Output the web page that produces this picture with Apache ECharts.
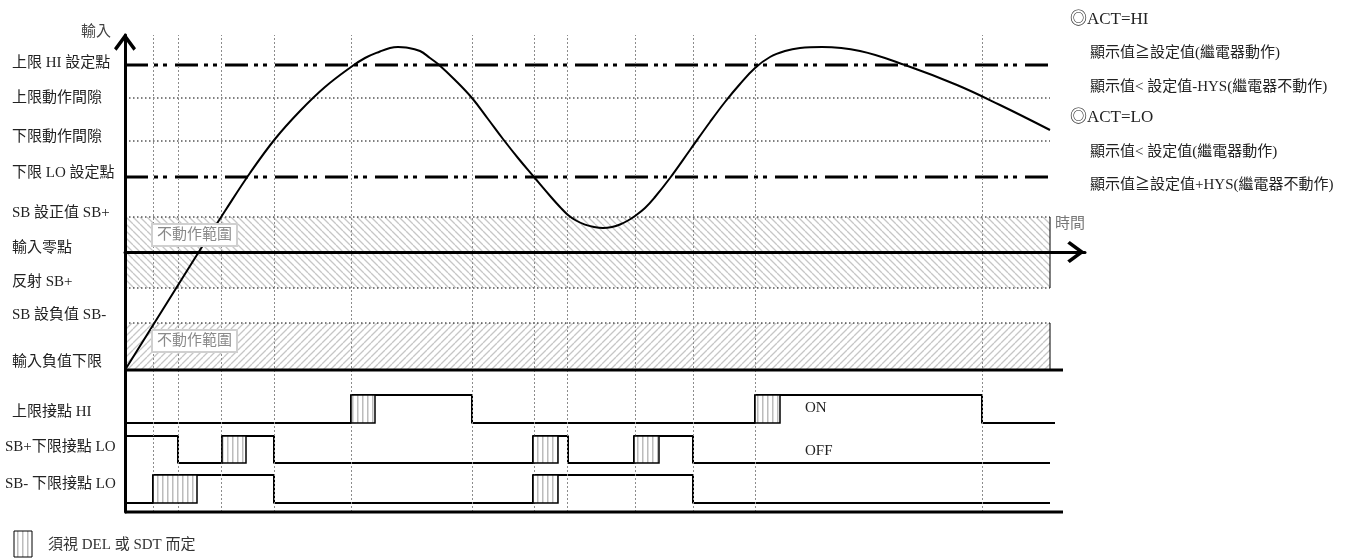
<!DOCTYPE html>
<html><head><meta charset="utf-8">
<script src="https://cdn.jsdelivr.net/npm/echarts@6/dist/echarts.min.js"></script>
<style>html,body{margin:0;padding:0;background:#fff}#c{width:1363px;height:559px}</style>
</head><body><div id="c"></div>
<script>
// ---------------- data ----------------
const levelNames = ['上限 HI 設定點','上限動作間隙','下限動作間隙','下限 LO 設定點','SB 設正值 SB+','輸入零點','反射 SB+','SB 設負值 SB-','輸入負值下限','上限接點 HI','SB+下限接點 LO','SB- 下限接點 LO'];
const levelLabelValues = [189,154,115,79,39,4,-30,-63,-110,-160,-195,-232];

const hiSet = 187, hiGap = 154, loGap = 111, loSet = 75;
const sbPos = 35, sbRefl = -36, sbNeg = -71, negLimit = -118, bottomLine = -260;
const tEnd = 925, tEndThick = 938;

const eventTimes = [28,53,96,149,226,347,409,442,510,568,630,857];

const curveT = [0,25,50,75,100,125,150,175,200,226,240,255,265,273,281,295,305,313,330,347,363,378,393,409,426,435,443,451,460,469,478,487,495,503,510,520,530,545,565,585,600,615,630,645,660,675,697,735,780,832,875,925];
const curveV = [-118,-78,-38,2,41,79,113,141,165,185,194,200.5,204,205,204.5,201,194,188,172,154,133,113,94,75,55,45,37,31.5,27.4,25,24,25,27.5,31.5,36,44,55,74,102,130,150,168,184,195,201,204,205,201,187,167,147,122];

const hiEdges = [0,226,347,630,857,930],            hiStates = [0,1,0,1,0];
const sbPosEdges = [0,53,97,149,408,443,509,568,925], sbPosStates = [1,0,1,0,1,0,1,0];
const sbNegEdges = [0,28,149,408,568,925],           sbNegStates = [0,1,0,1,0];
const hiRow = [-171,-143], sbPosRow = [-211,-184], sbNegRow = [-251,-223];

const delHi = [[226,250],[630,655]];
const delSbPos = [[97,121],[408,433],[509,534]];
const delSbNeg = [[28,72],[408,433]];

const bands = [[sbPos, sbRefl],[sbNeg, negLimit]];
const bandText = '不動作範圍';

const notes = ['◎ACT=HI','顯示值≧設定值(繼電器動作)','顯示值< 設定值-HYS(繼電器不動作)','◎ACT=LO','顯示值< 設定值(繼電器動作)','顯示值≧設定值+HYS(繼電器不動作)'];

// ---------------- helpers ----------------
const FONT = '"Liberation Serif","Noto Sans CJK TC",serif';

function hatch(back){
  const s = 7, c = document.createElement('canvas'); c.width = s; c.height = s;
  const g = c.getContext('2d'); g.strokeStyle = '#c6c6c6'; g.lineWidth = 1.3; g.beginPath();
  for (const k of [-s,0,s]) {
    if (back) { g.moveTo(k,0); g.lineTo(k+s,s); } else { g.moveTo(k,s); g.lineTo(k+s,0); }
  }
  g.stroke(); return c;
}
function stripes(){
  const c = document.createElement('canvas'); c.width = 5; c.height = 4;
  const g = c.getContext('2d'); g.fillStyle = '#fff'; g.fillRect(0,0,5,4);
  g.fillStyle = '#bcbcbc'; g.fillRect(2,0,1.5,4); return c;
}
const hatchBack = hatch(true), hatchFwd = hatch(false), stripeImg = stripes();

function stepData(edges, states, row){
  const d = [];
  for (let i = 0; i < states.length; i++) d.push([edges[i], row[states[i]]]);
  d.push([edges[edges.length-1], row[states[states.length-1]]]);
  return d;
}
function levelLine(v, end, style, z){
  return {type:'line', z: z||4, silent:true, clip:false, symbol:'none', animation:false,
    data:[[0,v],[end,v]], lineStyle: style};
}
const DASHDOT = {color:'#000', width:3, type:[23,6,4,5,4,8]};
const DOTTED = {color:'#000', width:1, type:[1.5,2.5]};
const THICK = {color:'#000', width:3};
const chevron = 'path://M11,0 L22,15 L19.5,17.5 L11,6 L2.5,17.5 L0,15 Z';

const delData = [
  ...delHi.map(d=>[d[0],d[1],hiRow[0],hiRow[1]]),
  ...delSbPos.map(d=>[d[0],d[1],sbPosRow[0],sbPosRow[1]]),
  ...delSbNeg.map(d=>[d[0],d[1],sbNegRow[0],sbNegRow[1]])
];

const series = [
  {type:'line', z:3, silent:true, symbol:'none', data:[[0,0]], lineStyle:{opacity:0},
   markLine:{silent:true, symbol:['none','none'], animation:false, label:{show:false},
     lineStyle:{color:'#8c8c8c', width:1, type:[2,2]}, data: eventTimes.map(t=>({xAxis:t}))}},
  {type:'custom', z:2, silent:true, encode:{x:[0,1], y:[2,3]},
   data: bands.map(b=>[0,tEnd,b[0],b[1]]),
   renderItem:(params, api)=>{
     const a = api.coord([api.value(0), api.value(2)]), b = api.coord([api.value(1), api.value(3)]);
     const img = params.dataIndex === 0 ? hatchBack : hatchFwd;
     return {type:'group', children:[
       {type:'rect', shape:{x:a[0], y:a[1], width:b[0]-a[0], height:b[1]-a[1]}, style:{fill:{image:img, repeat:'repeat'}}},
       {type:'line', shape:{x1:b[0], y1:a[1], x2:b[0], y2:b[1]}, style:{stroke:'#000', lineWidth:1}}
     ]};
   }},
  levelLine(hiSet, tEnd, DASHDOT),
  levelLine(hiGap, tEnd, DOTTED),
  levelLine(loGap, tEnd, DOTTED),
  levelLine(loSet, tEnd, DASHDOT),
  levelLine(sbPos, tEnd, DOTTED),
  levelLine(sbRefl, tEnd, DOTTED),
  levelLine(sbNeg, tEnd, DOTTED),
  levelLine(negLimit, tEndThick, THICK, 5),
  levelLine(bottomLine, tEndThick, THICK, 5),
  {type:'line', z:4, silent:true, clip:false, symbol:'none', step:'end', data: stepData(hiEdges, hiStates, hiRow), lineStyle:{color:'#000', width:2}},
  {type:'line', z:4, silent:true, clip:false, symbol:'none', step:'end', data: stepData(sbPosEdges, sbPosStates, sbPosRow), lineStyle:{color:'#000', width:2}},
  {type:'line', z:4, silent:true, clip:false, symbol:'none', step:'end', data: stepData(sbNegEdges, sbNegStates, sbNegRow), lineStyle:{color:'#000', width:2}},
  {type:'custom', z:5, silent:true, encode:{x:[0,1], y:[2,3]}, data: delData,
   renderItem:(params, api)=>{
     const a = api.coord([api.value(0), api.value(3)]), b = api.coord([api.value(1), api.value(2)]);
     return {type:'rect', shape:{x:a[0], y:a[1], width:b[0]-a[0], height:b[1]-a[1]},
       style:{fill:{image:stripeImg, repeat:'repeat'}, stroke:'#000', lineWidth:1.5}};
   }},
  {type:'line', z:6, silent:true, symbol:'none', smooth:0.4, clip:false,
   data: curveT.map((t,i)=>[t, curveV[i]]), lineStyle:{color:'#000', width:2}},
  {type:'custom', z:7, silent:true, encode:{x:0, y:1}, data: bands.map(b=>[0,b[0]]),
   renderItem:(params, api)=>{
     const p = api.coord([api.value(0), api.value(1)]);
     return {type:'text', x:p[0]+28, y:p[1]+18, style:{text:bandText, font:'15px '+FONT, fill:'#8a8a8a',
       align:'left', verticalAlign:'middle', backgroundColor:'#fff', borderColor:'#d0d0d0', borderWidth:2, padding:[3,4,2,4]}};
   }}
];

const graphic = [];
const noteY = [20,53,87,118,152,185];
notes.forEach((t,i)=>{
  const head = t.charAt(0) === '◎';
  graphic.push({type:'text', x: head ? 1070 : 1090, y: noteY[i], silent:true,
    style:{text:t, font:(head?'17px ':'15px ')+FONT, fill:'#222', verticalAlign:'middle'}});
});
graphic.push({type:'text', x:1055, y:224, silent:true, style:{text:'時間', font:'15px '+FONT, fill:'#777', verticalAlign:'middle'}});
graphic.push({type:'text', x:805, y:408, silent:true, style:{text:'ON', font:'15px '+FONT, fill:'#222', verticalAlign:'middle'}});
graphic.push({type:'text', x:805, y:451, silent:true, style:{text:'OFF', font:'15px '+FONT, fill:'#222', verticalAlign:'middle'}});
graphic.push({type:'rect', silent:true, shape:{x:14, y:531, width:18, height:26}, style:{fill:{image:stripeImg, repeat:'repeat'}, stroke:'#000', lineWidth:1}});
graphic.push({type:'text', x:48, y:545, silent:true, style:{text:'須視 DEL 或 SDT 而定', font:'15px '+FONT, fill:'#333', verticalAlign:'middle'}});

const chart = echarts.init(document.getElementById('c'), null, {renderer:'canvas'});
chart.setOption({
  animation:false,
  backgroundColor:'#fff',
  grid:{left:125, right:278, top:35, bottom:47, containLabel:false},
  xAxis:{type:'value', min:0, max:960, z:10,
    axisLine:{show:true, onZero:true, lineStyle:{color:'#000', width:3}, symbol:['none', chevron], symbolSize:[22,18], symbolOffset:[0,-9]},
    axisTick:{show:false}, axisLabel:{show:false}, splitLine:{show:false}},
  yAxis:{type:'value', min:bottomLine, max:217, z:10,
    axisLine:{show:true, onZero:true, lineStyle:{color:'#000', width:3}, symbol:['none', chevron], symbolSize:[22,18], symbolOffset:[0,-7]},
    axisTick:{show:false}, splitLine:{show:false},
    axisLabel:{customValues: levelLabelValues, align:'left', margin:120,
      formatter: v => { const n = levelNames[levelLabelValues.indexOf(v)] || ''; return /^SB[+-]/.test(n) ? '{w|' + n + '}' : '{t|' + n + '}'; },
      rich:{
        t:{fontSize:15, fontFamily:FONT, color:'#222', padding:[0,0,0,7]},
        w:{fontSize:15, fontFamily:FONT, color:'#222'}
      }},
    name:'輸入', nameLocation:'end', nameGap:3,
    nameTextStyle:{color:'#444', fontSize:15, fontFamily:FONT, align:'right', verticalAlign:'middle', padding:[0,14,0,0]}},
  series: series,
  graphic: graphic
});
</script>
</body></html>
